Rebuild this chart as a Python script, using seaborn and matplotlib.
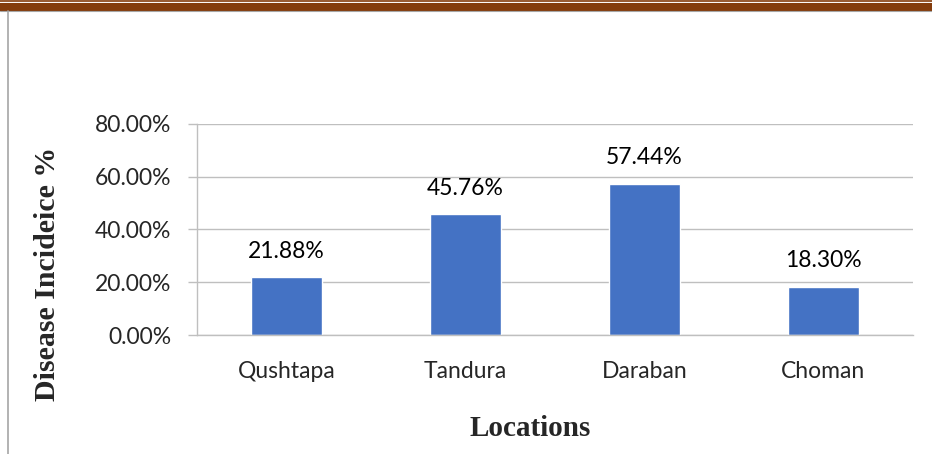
import matplotlib
matplotlib.use("Agg")
import matplotlib.pyplot as plt
from matplotlib.lines import Line2D
from matplotlib.ticker import PercentFormatter
import seaborn as sns
import pandas as pd

locations = ["Qushtapa", "Tandura", "Daraban", "Choman"]
incidence = [21.88, 45.76, 57.44, 18.30]
y_ticks = [0, 20, 40, 60, 80]

BAR_COLOR = "#4472C4"
GRID_COLOR = "#BFBFBF"

sns.set_theme(style="white")
plt.rcParams["font.family"] = ["Lato", "DejaVu Sans"]

df = pd.DataFrame({"location": locations, "incidence": incidence})

fig = plt.figure(figsize=(9.32, 4.54), dpi=100)
ax = fig.add_axes([197 / 932, 1 - 335 / 454, (913 - 197) / 932, (335 - 124) / 454])

sns.barplot(data=df, x="location", y="incidence", color=BAR_COLOR,
            saturation=1, width=0.40, ax=ax)

ax.set_ylim(0, 80)
ax.set_yticks(y_ticks)
ax.yaxis.set_major_formatter(PercentFormatter(decimals=2))
ax.grid(axis="y", color=GRID_COLOR, linewidth=1)
ax.set_axisbelow(True)
for side in ["top", "right"]:
    ax.spines[side].set_visible(False)
ax.spines["left"].set_color(GRID_COLOR)
ax.spines["bottom"].set_color(GRID_COLOR)
ax.spines["left"].set_linewidth(1)
ax.spines["bottom"].set_linewidth(1)
ax.tick_params(axis="y", length=6.5, width=1, color=GRID_COLOR, left=True,
               labelsize=16.5, pad=12)
ax.tick_params(axis="x", length=0, labelsize=16.5, pad=19)
ax.set_xlabel("")
ax.set_ylabel("")

# data labels above bars
for patch, val in zip(ax.patches, incidence):
    ax.annotate(f"{val:.2f}%", (patch.get_x() + patch.get_width() / 2, patch.get_height()),
                xytext=(0, 11), textcoords="offset points", ha="center", va="bottom",
                fontsize=16.5, color="black")

serif = ["Liberation Serif", "DejaVu Serif"]
fig.text(530 / 932, 1 - 428 / 454, "Locations", ha="center", va="center",
         fontsize=21, fontweight="bold", family=serif)
fig.text(48 / 932, 1 - 274 / 454, "Disease Incideice %", ha="center", va="center",
         rotation=90, fontsize=21.5, fontweight="bold", family=serif)

# page decorations: brown header rule and left border
brown = "#843C0C"
fig.add_artist(Line2D([0, 1], [1 - 1.2 / 454, 1 - 1.2 / 454], color=brown, linewidth=1.2,
                      transform=fig.transFigure))
fig.add_artist(Line2D([0, 1], [1 - 7 / 454, 1 - 7 / 454], color=brown, linewidth=5.8,
                      transform=fig.transFigure))
fig.add_artist(Line2D([0, 1], [1 - 11.3 / 454, 1 - 11.3 / 454], color="#A6A6A6", linewidth=0.8,
                      transform=fig.transFigure))
fig.add_artist(Line2D([8 / 932, 8 / 932], [0, 1 - 11 / 454], color="#A6A6A6", linewidth=1.2,
                      transform=fig.transFigure))

fig.savefig("out.png", dpi=100)
